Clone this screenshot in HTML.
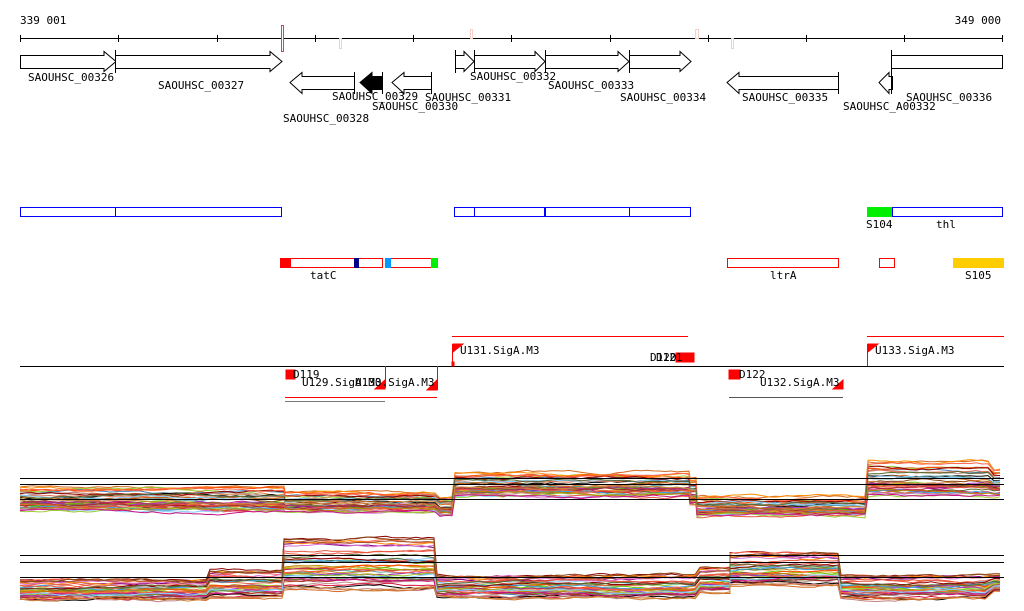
<!DOCTYPE html>
<html><head><meta charset="utf-8"><style>
html,body{margin:0;padding:0;background:#fff;}
svg{display:block;}
text{font-family:"DejaVu Sans Mono","Liberation Mono",monospace;font-size:11px;fill:#000;}
</style></head><body>
<svg id="s" width="1024" height="611" viewBox="0 0 1024 611" xmlns="http://www.w3.org/2000/svg">
<g id="plots"></g>
<text x="20" y="24">339 001</text>
<text x="1001" y="24" text-anchor="end">349 000</text>
<line x1="20" y1="38.5" x2="1003" y2="38.5" stroke="#000"/>
<g stroke="#000">
<line x1="20.5" y1="35" x2="20.5" y2="42"/><line x1="118.5" y1="35" x2="118.5" y2="42"/><line x1="217.5" y1="35" x2="217.5" y2="42"/><line x1="315.5" y1="35" x2="315.5" y2="42"/><line x1="413.5" y1="35" x2="413.5" y2="42"/><line x1="511.5" y1="35" x2="511.5" y2="42"/><line x1="610.5" y1="35" x2="610.5" y2="42"/><line x1="708.5" y1="35" x2="708.5" y2="42"/><line x1="806.5" y1="35" x2="806.5" y2="42"/><line x1="904.5" y1="35" x2="904.5" y2="42"/><line x1="1002.5" y1="35" x2="1002.5" y2="42"/>
</g>
<rect x="281.5" y="25.5" width="2" height="26" fill="#fff" stroke="#d44"/>
<rect x="339.5" y="38.5" width="2" height="10" fill="#fff" stroke="#f4d0c8"/>
<rect x="470.5" y="29.5" width="2" height="9" fill="#fff" stroke="#f4d0c8"/>
<rect x="695.5" y="29.5" width="3" height="9" fill="#fff" stroke="#f4d0c8"/>
<rect x="731.5" y="38.5" width="2" height="10" fill="#fff" stroke="#f4d0c8"/>
<g fill="#fff" stroke="#000">
<polygon points="20.5,55.5 104,55.5 104,51.5 116,61.5 104,71.5 104,68.5 20.5,68.5"/>
<polygon points="115.5,55.5 270,55.5 270,51.5 282,61.5 270,71.5 270,68.5 115.5,68.5"/>
<polygon points="354.5,76.5 302,76.5 302,72.5 290,82.5 302,93.5 302,89.5 354.5,89.5"/>
<polygon points="382.5,76.5 372,76.5 372,72.5 360,82.5 372,93.5 372,89.5 382.5,89.5" fill="#000"/>
<polygon points="431.5,76.5 404,76.5 404,72.5 392,82.5 404,93.5 404,89.5 431.5,89.5"/>
<polygon points="455.5,55.5 464,55.5 464,51.5 474,61.5 464,71.5 464,68.5 455.5,68.5"/>
<polygon points="474.5,55.5 535,55.5 535,51.5 545,61.5 535,71.5 535,68.5 474.5,68.5"/>
<polygon points="545.5,55.5 618,55.5 618,51.5 629,61.5 618,71.5 618,68.5 545.5,68.5"/>
<polygon points="629.5,55.5 680,55.5 680,51.5 691,61.5 680,71.5 680,68.5 629.5,68.5"/>
<polygon points="838.5,76.5 739,76.5 739,72.5 727,82.5 739,93.5 739,89.5 838.5,89.5"/>
<polygon points="892.5,76.5 889,76.5 889,72.5 879,82.5 889,93.5 889,89.5 892.5,89.5"/>
<rect x="891.5" y="55.5" width="111" height="13"/>
<line x1="115.5" y1="50" x2="115.5" y2="73"/><line x1="354.5" y1="72" x2="354.5" y2="94"/>
<line x1="382.5" y1="72" x2="382.5" y2="94"/><line x1="431.5" y1="72" x2="431.5" y2="94"/>
<line x1="455.5" y1="50" x2="455.5" y2="73"/><line x1="474.5" y1="50" x2="474.5" y2="73"/>
<line x1="545.5" y1="50" x2="545.5" y2="73"/><line x1="629.5" y1="50" x2="629.5" y2="73"/>
<line x1="838.5" y1="72" x2="838.5" y2="94"/><line x1="891.5" y1="50" x2="891.5" y2="94"/>
</g>
<text x="28" y="81">SAOUHSC_00326</text>
<text x="158" y="89">SAOUHSC_00327</text>
<text x="283" y="122">SAOUHSC_00328</text>
<text x="332" y="100">SAOUHSC_00329</text>
<text x="372" y="110">SAOUHSC_00330</text>
<text x="425" y="101">SAOUHSC_00331</text>
<text x="470" y="80">SAOUHSC_00332</text>
<text x="548" y="89">SAOUHSC_00333</text>
<text x="620" y="101">SAOUHSC_00334</text>
<text x="742" y="101">SAOUHSC_00335</text>
<text x="843" y="110">SAOUHSC_A00332</text>
<text x="906" y="101">SAOUHSC_00336</text>
<g fill="#fff" stroke="#00f">
<rect x="20.5" y="207.5" width="95" height="9"/><rect x="115.5" y="207.5" width="166" height="9"/>
<rect x="454.5" y="207.5" width="20" height="9"/><rect x="474.5" y="207.5" width="70" height="9"/>
<rect x="545.5" y="207.5" width="84" height="9"/><rect x="629.5" y="207.5" width="61" height="9"/>
<rect x="892.5" y="207.5" width="110" height="9"/>
</g>
<rect x="867" y="207" width="25" height="10" fill="#0e0"/>
<text x="866" y="228">S104</text><text x="936" y="228">thl</text>
<g fill="#fff" stroke="#f00">
<rect x="280.5" y="258.5" width="78" height="9"/><rect x="358.5" y="258.5" width="24" height="9"/>
<rect x="390.5" y="258.5" width="41" height="9"/><rect x="727.5" y="258.5" width="111" height="9"/>
<rect x="879.5" y="258.5" width="15" height="9"/>
</g>
<rect x="280" y="258" width="11" height="10" fill="#f00"/>
<rect x="354" y="258" width="5" height="10" fill="#008"/>
<rect x="385" y="258" width="6" height="10" fill="#09f"/>
<rect x="431" y="258" width="7" height="10" fill="#0e0"/>
<rect x="953" y="258" width="51" height="10" fill="#fc0"/>
<text x="310" y="279">tatC</text><text x="770" y="279">ltrA</text><text x="965" y="279">S105</text>
<line x1="20" y1="366.5" x2="1004" y2="366.5" stroke="#000"/>
<g stroke="#f00" fill="#f00">
<line x1="452" y1="336.5" x2="688" y2="336.5"/><line x1="867" y1="336.5" x2="1004" y2="336.5"/>
<line x1="452.5" y1="344" x2="452.5" y2="366"/><polygon points="453,344 463,344 453,352"/>
<rect x="452" y="362" width="2" height="4"/>
<line x1="867.5" y1="344" x2="867.5" y2="366"/><polygon points="868,344 878,344 868,352"/>
<line x1="385.5" y1="366" x2="385.5" y2="388"/><polygon points="385,380 385,389 375,389"/>
<line x1="437.5" y1="366" x2="437.5" y2="390"/><polygon points="437,380 437,390 427,390"/>
<polygon points="843,380 843,389 833,389"/>
<rect x="286" y="370" width="9" height="9"/>
<rect x="729" y="370" width="11" height="9"/>
<rect x="676" y="353" width="18" height="9"/>
<line x1="285" y1="397.5" x2="437" y2="397.5"/><line x1="285" y1="401.5" x2="385" y2="401.5" stroke="#777"/>
<line x1="729" y1="397.5" x2="843" y2="397.5" stroke="#555"/>
</g>
<text x="460" y="354">U131.SigA.M3</text>
<text x="650" y="361">D120</text><text x="656" y="361">D121</text>
<text x="293" y="378">D119</text>
<text x="302" y="386">U129.SigA.M3</text><text x="355" y="386">U130.SigA.M3</text>
<text x="739" y="378">D122</text>
<text x="760" y="386">U132.SigA.M3</text>
<text x="875" y="354">U133.SigA.M3</text>
<g stroke="#000">
<line x1="20" y1="478.5" x2="1004" y2="478.5"/><line x1="20" y1="484.5" x2="1004" y2="484.5"/><line x1="20" y1="499.5" x2="1004" y2="499.5"/>
<line x1="20" y1="555.5" x2="1004" y2="555.5"/><line x1="20" y1="562.5" x2="1004" y2="562.5"/><line x1="20" y1="577.5" x2="1004" y2="577.5"/>
</g>
</svg>
<script>
(function(){
var g=document.getElementById('plots');
var cols=['#d2691e','#e9573f','#8b0000','#9acd32','#b8860b','#c71585','#ff6347','#87cefa','#cd853f','#556b2f','#800080','#ff8c00','#da70d6','#4682b4','#a0522d','#bc8f8f','#66cd00','#dc143c','#000','#8b4513','#daa520','#5f9ea0','#e07050','#9932cc','#ff4500','#6b8e23','#c08080','#b03060','#40a0e0','#a52a2a'];
var panels=[
[[20,285,486,512],[285,440,492,512],[440,455,496,516],[455,690,472,497],[690,697,478,505],[697,868,497,516],[868,990,460,497],[994,1004,468,497]],
[[20,210,580,600],[210,284,570,598],[284,437,538,590],[437,700,575,598],[700,730,568,592],[730,841,553,586],[841,990,575,598],[994,1004,575,590]]];
var seed=7;function r(){seed=(seed*16807)%2147483647;return seed/2147483647;}
var N=40;
panels.forEach(function(segs){
 for(var i=0;i<N;i++){
  var f=Math.pow(r(),0.8);var pts=[];var c=cols[i%cols.length];var w=0;
  segs.forEach(function(s){
   for(var x=s[0];x<=s[1];x+=6){
    w+= (r()-0.5)*1.2; w*=0.9;
    var y=s[2]+f*(s[3]-s[2])+w*2;
    pts.push(x+','+y.toFixed(1));
   }
  });
  var p=document.createElementNS('http://www.w3.org/2000/svg','polyline');
  p.setAttribute('points',pts.join(' '));p.setAttribute('fill','none');
  p.setAttribute('stroke',c);p.setAttribute('stroke-width','1');
  g.appendChild(p);
 }
});
})();
</script>
</body></html>
